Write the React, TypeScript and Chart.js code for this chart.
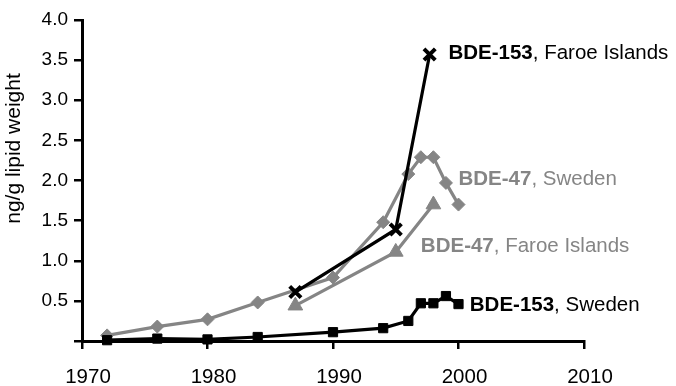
import React, { useEffect, useRef } from 'react';
import { Chart, registerables } from 'chart.js';

Chart.register(...registerables);

// ---- data ----
const bde153SwedenYears = [1972, 1976, 1980, 1984, 1990, 1994, 1996, 1997, 1998, 1999, 2000];
const bde153SwedenValues = [0.01, 0.03, 0.02, 0.05, 0.11, 0.16, 0.25, 0.47, 0.47, 0.56, 0.46];

const bde47SwedenYears = [1972, 1976, 1980, 1984, 1990, 1994, 1996, 1997, 1998, 1999, 2000];
const bde47SwedenValues = [0.07, 0.18, 0.27, 0.48, 0.79, 1.48, 2.08, 2.29, 2.29, 1.97, 1.7];

const bde47FaroeYears = [1987, 1995, 1998];
const bde47FaroeValues = [0.44, 1.11, 1.7];

const bde153FaroeYears = [1987, 1995, 1997.7];
const bde153FaroeValues = [0.61, 1.39, 3.57];

const xTickMin = 1970;
const xTickMax = 2010;
const yTickMin = 0;
const yTickMax = 4;

const yAxisTitle = 'ng/g lipid weight';

// series annotations: bold part, rest, colour, anchor (year, value)
const annotationBold = ['BDE-153', 'BDE-47', 'BDE-47', 'BDE-153'];
const annotationRest = [', Faroe Islands', ', Sweden', ', Faroe Islands', ', Sweden'];
const annotationYears = [1999.2, 2000.0, 1997.0, 2000.9];
const annotationValues = [3.58, 2.02, 1.18, 0.45];

const BLACK = '#000000';
const GRAY = '#858585';
const annotationColors = [BLACK, GRAY, GRAY, BLACK];

const FONT = '"Liberation Sans", Arial, Helvetica, sans-serif';

const toPoints = (xs: number[], ys: number[]) => xs.map((x, i) => ({ x, y: ys[i] }));

const overlayPlugin = {
  id: 'overlayText',
  afterDraw(chart: any) {
    const { ctx, scales } = chart;
    ctx.save();
    // y axis title
    ctx.fillStyle = BLACK;
    ctx.font = `21px ${FONT}`;
    ctx.textAlign = 'center';
    ctx.textBaseline = 'middle';
    ctx.translate(14, 148.5);
    ctx.rotate(-Math.PI / 2);
    ctx.fillText(yAxisTitle, 0, 0);
    ctx.restore();

    ctx.save();
    ctx.textBaseline = 'middle';
    ctx.textAlign = 'left';
    annotationBold.forEach((b, i) => {
      const px = scales.x.getPixelForValue(annotationYears[i]);
      const py = scales.y.getPixelForValue(annotationValues[i]);
      ctx.fillStyle = annotationColors[i];
      ctx.font = `bold 20.5px ${FONT}`;
      ctx.fillText(b, px, py);
      const w = ctx.measureText(b).width;
      ctx.font = `20.5px ${FONT}`;
      ctx.fillText(annotationRest[i], px + w, py);
    });
    ctx.restore();
  },
};

export default function App() {
  const ref = useRef<HTMLCanvasElement>(null);

  useEffect(() => {
    const canvas = ref.current;
    if (!canvas) return;
    const chart = new Chart(canvas, {
      type: 'line',
      data: {
        datasets: [
          {
            label: 'BDE-153, Faroe Islands',
            data: toPoints(bde153FaroeYears, bde153FaroeValues),
            borderColor: BLACK,
            backgroundColor: BLACK,
            borderWidth: 3.2,
            pointStyle: 'crossRot',
            pointRadius: 8,
            pointBorderWidth: 4,
            pointBorderColor: BLACK,
            clip: false,
            order: 0,
          },
          {
            label: 'BDE-153, Sweden',
            data: toPoints(bde153SwedenYears, bde153SwedenValues),
            borderColor: BLACK,
            backgroundColor: BLACK,
            borderWidth: 3.2,
            pointStyle: 'rect',
            pointRadius: 6.5,
            pointBorderWidth: 1,
            pointBackgroundColor: BLACK,
            pointBorderColor: BLACK,
            clip: false,
            order: 1,
          },
          {
            label: 'BDE-47, Sweden',
            data: toPoints(bde47SwedenYears, bde47SwedenValues),
            borderColor: GRAY,
            backgroundColor: GRAY,
            borderWidth: 3.2,
            pointStyle: 'rectRot',
            pointRadius: 6.5,
            pointBorderWidth: 1,
            pointBackgroundColor: GRAY,
            pointBorderColor: GRAY,
            clip: false,
            order: 2,
          },
          {
            label: 'BDE-47, Faroe Islands',
            data: toPoints(bde47FaroeYears, bde47FaroeValues),
            borderColor: GRAY,
            backgroundColor: GRAY,
            borderWidth: 3.2,
            pointStyle: 'triangle',
            pointRadius: 8.5,
            pointBorderWidth: 1,
            pointBackgroundColor: GRAY,
            pointBorderColor: GRAY,
            clip: false,
            order: 3,
          },
        ],
      },
      options: {
        responsive: false,
        animation: false,
        devicePixelRatio: 1,
        layout: { padding: { top: 20, right: 92, left: 0, bottom: 0 } },
        plugins: {
          legend: { display: false },
          tooltip: { enabled: false },
        },
        elements: { line: { tension: 0 } },
        scales: {
          x: {
            type: 'linear',
            min: xTickMin,
            max: xTickMax,
            afterFit: (s: any) => {
              s.height = 45;
            },
            border: { display: true, color: BLACK, width: 3 },
            grid: {
              display: true,
              drawOnChartArea: false,
              drawTicks: true,
              tickLength: 8,
              color: BLACK,
              lineWidth: 2.5,
            },
            ticks: {
              stepSize: 10,
              autoSkip: false,
              maxRotation: 0,
              padding: 16,
              labelOffset: 6,
              color: BLACK,
              font: { family: FONT, size: 20.5 },
              callback: (v: any) => String(v),
            },
          },
          y: {
            type: 'linear',
            min: yTickMin,
            max: yTickMax,
            afterFit: (s: any) => {
              s.width = 82;
            },
            border: { display: true, color: BLACK, width: 3 },
            grid: {
              display: true,
              drawOnChartArea: false,
              drawTicks: true,
              tickLength: 8,
              color: BLACK,
              lineWidth: 2.5,
            },
            ticks: {
              stepSize: 0.5,
              padding: 6,
              color: BLACK,
              font: { family: FONT, size: 19 },
              callback: (v: any) => (Number(v) === 0 ? '' : Number(v).toFixed(1)),
            },
          },
        },
      },
      plugins: [overlayPlugin],
    } as any);
    return () => chart.destroy();
  }, []);

  return (
    <div style={{ position: 'fixed', left: 0, top: 0, width: 676, height: 386, background: '#fff' }}>
      <canvas ref={ref} width={676} height={386} style={{ width: 676, height: 386, display: 'block' }} />
    </div>
  );
}
